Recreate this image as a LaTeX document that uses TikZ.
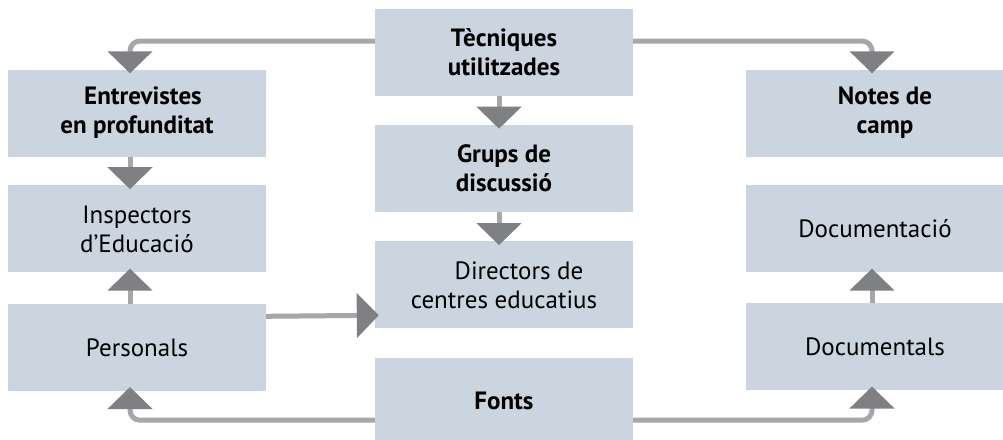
\documentclass[tikz,border=0pt]{standalone}
\usepackage{fontspec}
\setmainfont{PT Sans}
\usetikzlibrary{arrows.meta,positioning}
\definecolor{boxblue}{HTML}{CBD5DF}
\definecolor{linegray}{HTML}{A7A7A9}
\definecolor{tipgray}{HTML}{7F8084}

\begin{document}
\begin{tikzpicture}[x=1pt,y=-1pt,node distance=29pt,
  box node/.style={fill=boxblue,minimum width=258pt,minimum height=87pt,inner sep=0pt,align=center,font=\fontsize{25}{29}\selectfont},
  head node/.style={box node,font=\fontsize{25}{29}\selectfont\bfseries},
  flow/.style={draw=linegray,line width=5pt,rounded corners=10pt,-{Triangle[width=44pt,length=22pt,color=tipgray]},shorten >=-4pt}]
\useasboundingbox (0,0) rectangle (1003,439);

% centre column
\node[head node] (tec) at (504,52) {Tècniques\\utilitzades};
\node[head node] (grups) [below=of tec] {Grups de\\discussió};
\node[box node] (dir) [below=of grups] {\hspace*{30pt}Directors de\\centres educatius};
\node[head node] (fonts) [below=of dir] {Fonts};

% left column
\node[head node] (entr) at (137,113) {\hspace*{12pt}Entrevistes\\en profunditat};
\node[box node] (insp) [below=28.5pt of entr] {Inspectors\\d’Educació};
\node[box node] (pers) [below=31pt of insp] {Personals};

% right column
\node[head node] (notes) at (875,113) {\hspace*{20pt}Notes de\\\hspace*{20pt}camp};
\node[box node] (docum) [below=28.5pt of notes] {Documentació};
\node[box node] (docs) [below=30.5pt of docum] {Documentals};

\draw[flow] ([yshift=11pt]tec.west) -| ([xshift=-7pt]entr.north);
\draw[flow] ([yshift=11pt]tec.east) -| ([xshift=-3pt]notes.north);
\draw[flow] ([xshift=-5pt]tec.south) -- ([xshift=-5pt]grups.north);
\draw[flow] ([xshift=-5pt]grups.south) -- ([xshift=-5pt]dir.north);
\draw[flow] ([xshift=-7pt]entr.south) -- ([xshift=-7pt]insp.north);
\draw[flow] ([xshift=-7pt]pers.north) -- ([xshift=-7pt]insp.south);
\draw[flow] ([yshift=31pt]pers.east) -- ([yshift=-30.5pt]dir.west);
\draw[flow] ([yshift=-19pt]fonts.west) -| ([xshift=-7pt]pers.south);
\draw[flow] ([yshift=-19pt]fonts.east) -| ([xshift=-3pt]docs.south);
\draw[flow] ([xshift=-3pt]docs.north) -- ([xshift=-3pt]docum.south);
\end{tikzpicture}
\end{document}
